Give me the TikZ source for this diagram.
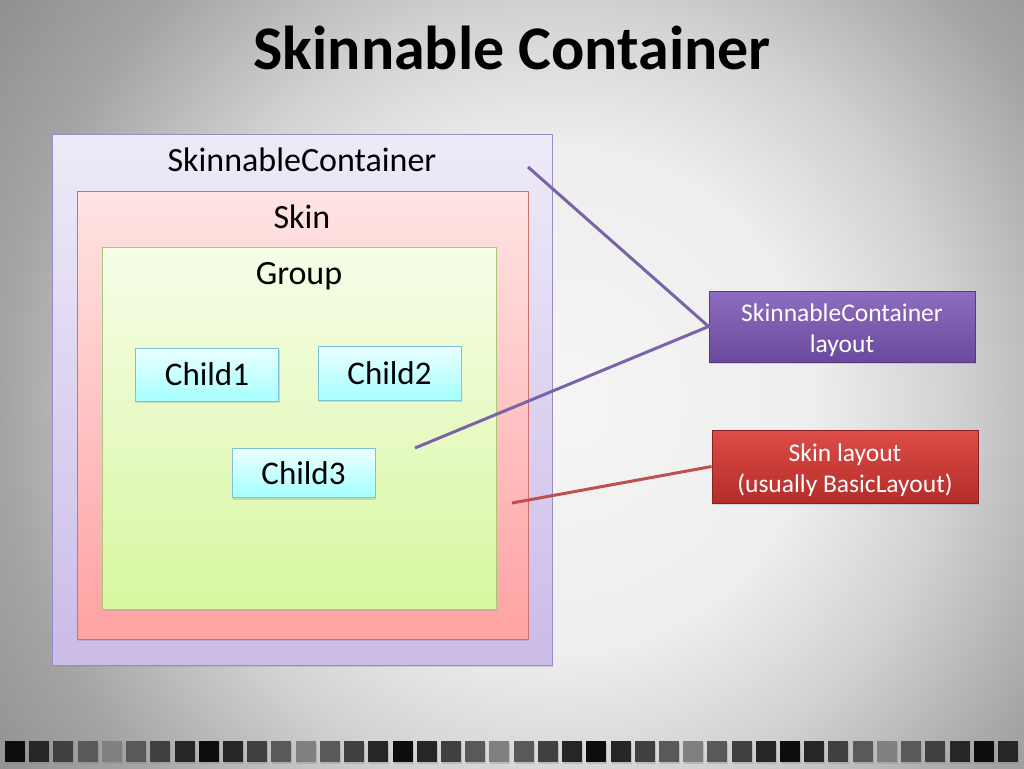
\documentclass[tikz,border=0pt]{standalone}
\usepackage{fontspec}
\setmainfont{Carlito}
\usetikzlibrary{shadows}
\definecolor{bgA}{HTML}{F5F5F5}
\definecolor{bgB}{HTML}{EEEEEE}
\definecolor{bgC}{HTML}{D2D2D2}
\definecolor{bgD}{HTML}{A4A4A4}
\definecolor{bgE}{HTML}{8E8E8E}
\pgfdeclareradialshading{slide bg}{\pgfpoint{0bp}{0bp}}{color(0bp)=(bgA); color(9bp)=(bgB); color(14bp)=(bgC); color(20bp)=(bgD); color(25bp)=(bgE); color(50bp)=(bgE)}
\newcommand\calloutstrut{\rule{0pt}{26pt}}
\begin{document}
\begin{tikzpicture}[x=1pt,y=-1pt]
    \tikzset{layer box/.style n args={3}{draw=#1,line width=0.8pt,top color=#2,bottom color=#3,inner sep=0pt,
        drop shadow={shadow xshift=1pt,shadow yshift=-2pt,opacity=0.25}},
      child box/.style={layer box={childLine}{cyan!8}{cyan!35},minimum width=143pt,font=\fontsize{33}{36}\selectfont},
      layout box/.style n args={3}{layer box={#1}{#2}{#3},minimum width=266pt,text=white,align=center,
        font=\fontsize{25.5}{31}\selectfont},
      link/.style={draw=#1,line width=3pt}}
    \definecolor{scLine}{HTML}{9A8CC6}
    \definecolor{scTop}{HTML}{EEEBF8}
    \definecolor{scBottom}{HTML}{CBBBE8}
    \definecolor{skinLine}{HTML}{CC7272}
    \definecolor{skinTop}{HTML}{FFE4E4}
    \definecolor{skinBottom}{HTML}{FFA2A2}
    \definecolor{groupLine}{HTML}{A8C878}
    \definecolor{groupTop}{HTML}{F6FDE8}
    \definecolor{groupBottom}{HTML}{D8F7A0}
    \definecolor{childLine}{HTML}{7CC0DC}
    \definecolor{purpleTop}{HTML}{8F6CC0}
    \definecolor{purpleBottom}{HTML}{6A4A9E}
    \definecolor{redTop}{HTML}{DE4C47}
    \definecolor{redBottom}{HTML}{B32D2A}
    \definecolor{purpleLink}{HTML}{7A63A9}
    \definecolor{redLink}{HTML}{C0504D}

    \useasboundingbox (0,0) rectangle (1024,768);
    \begin{scope}
      \clip (0,0) rectangle (1024,768);
      \shade[shading=slide bg] (-140,-300) rectangle (1260,1100);
    \end{scope}

    \node[font=\fontsize{62}{70}\selectfont\bfseries] (title) at (512,48) {Skinnable Container};

    \node[layer box={scLine}{scTop}{scBottom},minimum width=500pt,minimum height=531pt] (SC) at (302,399.5) {};
    \node[layer box={skinLine}{skinTop}{skinBottom},minimum width=451pt,minimum height=448pt] (Skin) at (302.5,415) {};
    \node[layer box={groupLine}{groupTop}{groupBottom},minimum width=394pt,minimum height=362pt] (Group) at (299,428) {};

    \node[font=\fontsize{34}{38}\selectfont] (SC-label) at (302,160) {SkinnableContainer};
    \node[font=\fontsize{34}{38}\selectfont] (Skin-label) at (302,217) {Skin};
    \node[font=\fontsize{34}{38}\selectfont] (Group-label) at (299,276) {Group};

    \node[child box,minimum height=53pt] (Child1) at (207,374.5) {Child1};
    \node[child box,minimum height=54pt] (Child2) at (389.5,373) {Child2};
    \node[child box,minimum height=49pt] (Child3) at (303.5,473) {Child3};

    \node[layout box={purpleBottom!80!black}{purpleTop}{purpleBottom},minimum height=71pt] (SC-layout) at (842,326.5)
      {\calloutstrut SkinnableContainer\\layout};
    \node[layout box={redBottom!75!black}{redTop}{redBottom},minimum height=73pt] (Skin-layout) at (845,466.5)
      {\calloutstrut Skin layout\\(usually BasicLayout)};

    \coordinate (SC-endpoint) at (528,167);
    \coordinate (Group-endpoint) at (415,448);
    \coordinate (Skin-endpoint) at (512,503);
    \draw[link=purpleLink] (SC-endpoint) -- (SC-layout.west) -- (Group-endpoint);
    \draw[link=redLink] (Skin-endpoint) -- (Skin-layout.west);

    \foreach \k in {0,...,5}
      \foreach \g [count=\j from 0] in {95,85,75,65,50,65,75,85} {
        \pgfmathtruncatemacro\n{8*\k+\j}
        \ifnum\n<42
          \fill[black!\g,drop shadow={shadow xshift=1pt,shadow yshift=-1.5pt,opacity=0.3}]
            (5+24.22*\n,741) rectangle ++(20,21);
        \fi
      }
  \end{tikzpicture}
\end{document}
